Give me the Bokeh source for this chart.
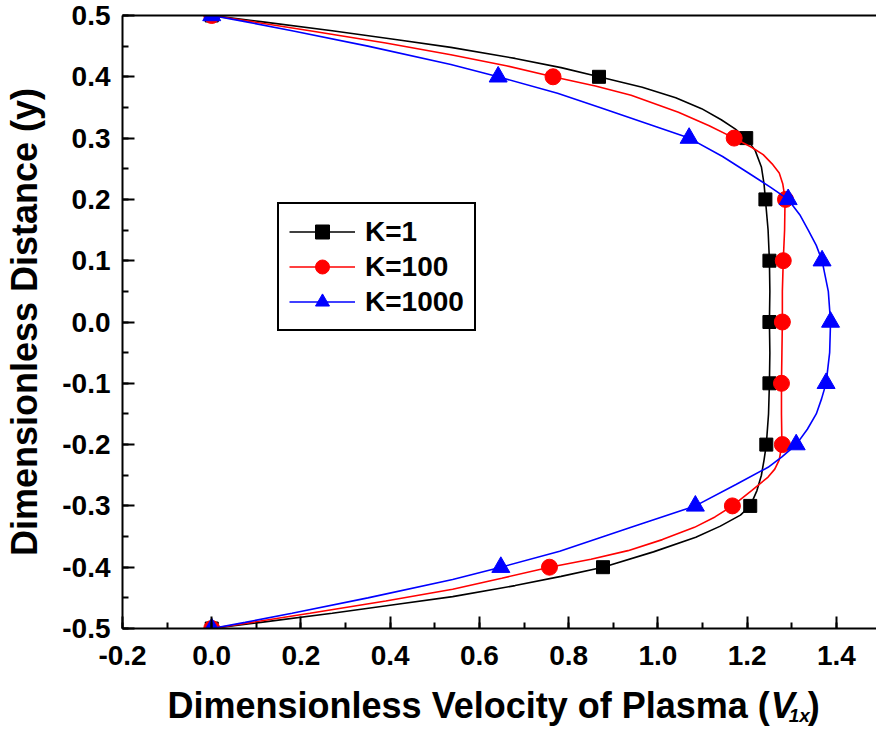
from bokeh.plotting import figure
from bokeh.models import (Range1d, LinearAxis, FixedTicker, Legend, LegendItem, Label,
                          SingleIntervalTicker, PrintfTickFormatter)
from bokeh.layouts import column
from bokeh.embed import file_html
from bokeh.resources import INLINE

# ---- marker data ----
y_pts = [0.5, 0.4, 0.3, 0.2, 0.1, 0.0, -0.1, -0.2, -0.3, -0.4, -0.5]
k1_pts = [0.0, 0.868, 1.198, 1.241, 1.250, 1.250, 1.250, 1.243, 1.207, 0.877, 0.0]
k100_pts = [0.0, 0.765, 1.171, 1.286, 1.281, 1.279, 1.277, 1.279, 1.167, 0.757, 0.0]
k1000_pts = [0.0, 0.642, 1.070, 1.292, 1.368, 1.387, 1.377, 1.310, 1.084, 0.648, 0.0]

# ---- curve data ----
k1_line_y = [0.5, 0.49, 0.475, 0.46, 0.448, 0.43, 0.415, 0.4, 0.383, 0.366, 0.348, 0.33, 0.315,
             0.3, 0.28, 0.253, 0.225, 0.2, 0.15, 0.1, 0.05, 0.0,
             -0.05, -0.1, -0.15, -0.2, -0.225, -0.25, -0.275, -0.3, -0.315, -0.333, -0.351,
             -0.375, -0.4, -0.415, -0.43, -0.448, -0.46, -0.475, -0.49, -0.5]
k1_line_x = [0.0, 0.11, 0.27, 0.42, 0.536, 0.68, 0.783, 0.868, 0.965, 1.040, 1.098, 1.142, 1.173,
             1.198, 1.218, 1.232, 1.238, 1.241, 1.247, 1.250, 1.251, 1.250,
             1.251, 1.250, 1.248, 1.243, 1.238, 1.232, 1.222, 1.207, 1.185, 1.140, 1.085,
             0.990, 0.877, 0.783, 0.680, 0.540, 0.420, 0.270, 0.110, 0.0]

k100_line_y = [0.5, 0.49, 0.475, 0.455, 0.436, 0.418, 0.4, 0.385, 0.37, 0.342, 0.32, 0.3, 0.285,
               0.273, 0.258, 0.243, 0.225, 0.211, 0.2, 0.15, 0.1, 0.05, 0.0,
               -0.05, -0.1, -0.15, -0.2, -0.225, -0.24, -0.253, -0.275, -0.3, -0.318, -0.335,
               -0.355, -0.373, -0.387, -0.4, -0.418, -0.436, -0.455, -0.475, -0.49, -0.5]
k100_line_x = [0.0, 0.09, 0.22, 0.39, 0.536, 0.66, 0.765, 0.86, 0.94, 1.046, 1.115, 1.171, 1.210,
               1.236, 1.256, 1.272, 1.280, 1.283, 1.285, 1.284, 1.281, 1.279, 1.279,
               1.278, 1.277, 1.277, 1.278, 1.272, 1.262, 1.247, 1.210, 1.167, 1.128, 1.082,
               1.010, 0.933, 0.850, 0.757, 0.650, 0.540, 0.390, 0.220, 0.090, 0.0]

k1000_line_y = [0.5, 0.49, 0.475, 0.45, 0.42, 0.4, 0.373, 0.35, 0.325, 0.3, 0.27, 0.243, 0.22,
                0.2, 0.175, 0.15, 0.125, 0.1, 0.05, 0.0,
                -0.05, -0.1, -0.125, -0.15, -0.175, -0.2, -0.22, -0.237, -0.265, -0.3, -0.335,
                -0.374, -0.4, -0.42, -0.45, -0.475, -0.49, -0.5]
k1000_line_x = [0.0, 0.075, 0.18, 0.35, 0.536, 0.642, 0.775, 0.870, 0.970, 1.070, 1.145, 1.203, 1.252,
                1.292, 1.318, 1.337, 1.355, 1.368, 1.382, 1.387,
                1.385, 1.377, 1.367, 1.355, 1.335, 1.310, 1.278, 1.247, 1.175, 1.084, 0.940,
                0.780, 0.648, 0.540, 0.350, 0.180, 0.075, 0.0]

labels = ["K=1", "K=100", "K=1000"]
x_title = "Dimensionless Velocity of Plasma ("
y_title = "Dimensionless Distance (y)"

FONT = "Liberation Sans"

p = figure(width=876, height=680, x_range=Range1d(-0.2, 1.49), y_range=Range1d(-0.5, 0.5),
           output_backend="svg", toolbar_location=None,
           min_border_left=122, min_border_right=0, min_border_top=15, min_border_bottom=52)
p.outline_line_color = None
p.xgrid.visible = False
p.ygrid.visible = False
p.background_fill_color = "white"
p.border_fill_color = "white"

for ax in (p.xaxis[0], p.yaxis[0]):
    ax.axis_line_width = 2
    ax.axis_line_color = "black"
    ax.major_tick_in = 12
    ax.major_tick_out = 0
    ax.minor_tick_in = 6
    ax.minor_tick_out = 0
    ax.major_tick_line_width = 2
    ax.minor_tick_line_width = 2
    ax.major_label_text_font = FONT
    ax.major_label_text_font_style = "bold"
    ax.major_label_text_font_size = "28px"
    ax.major_label_text_color = "black"
    ax.formatter = PrintfTickFormatter(format="%.1f")

p.xaxis[0].ticker = SingleIntervalTicker(interval=0.2, num_minor_ticks=2)
p.yaxis[0].ticker = SingleIntervalTicker(interval=0.1, num_minor_ticks=2)
p.xaxis[0].major_label_standoff = 17
p.yaxis[0].major_label_standoff = 12

p.yaxis[0].axis_label = y_title
p.yaxis[0].axis_label_text_font = FONT
p.yaxis[0].axis_label_text_font_style = "bold"
p.yaxis[0].axis_label_text_font_size = "36px"
p.yaxis[0].axis_label_text_color = "black"
p.yaxis[0].axis_label_standoff = 14

top = LinearAxis(ticker=FixedTicker(ticks=[], minor_ticks=[]), axis_line_width=2,
                 major_tick_in=0, major_tick_out=0, minor_tick_in=0, minor_tick_out=0)
p.add_layout(top, "above")

series = [
    (k1_line_x, k1_line_y, k1_pts, "black", "square", 13),
    (k100_line_x, k100_line_y, k100_pts, "red", "circle", 16),
    (k1000_line_x, k1000_line_y, k1000_pts, "blue", "triangle", 18),
]
items = []
for (lx, ly, pts, col, mk, sz), lab in zip(series, labels):
    lr = p.line(lx, ly, line_color=col, line_width=1.6)
    mr = p.scatter(pts, y_pts, marker=mk, size=sz, fill_color=col, line_color=col)
    items.append(LegendItem(label=lab, renderers=[lr, mr]))

legend = Legend(items=items, location=(155, 297), orientation="vertical",
                label_text_font=FONT, label_text_font_style="bold", label_text_font_size="28px",
                label_text_color="black",
                glyph_width=66, glyph_height=35, label_height=35, spacing=0, padding=10,
                label_standoff=10, margin=0, border_line_color="black", border_line_width=2,
                border_line_alpha=1.0,
                background_fill_color="white", background_fill_alpha=1.0)
p.add_layout(legend)

# ---- x axis title strip (main text + italic V with subscript) ----
t = figure(width=876, height=50, x_range=Range1d(0, 876), y_range=Range1d(0, 50),
           output_backend="svg", toolbar_location=None, x_axis_type=None, y_axis_type=None,
           min_border=0)
t.outline_line_color = None
t.xgrid.visible = False
t.ygrid.visible = False

X0 = 752
BASE = 25
t.add_layout(Label(x=X0, y=BASE, text=x_title, text_align="right", text_baseline="alphabetic",
                   text_font=FONT, text_font_style="bold", text_font_size="36px", text_color="black"))
t.add_layout(Label(x=X0 + 1, y=BASE, text="V", text_align="left", text_baseline="alphabetic",
                   text_font=FONT, text_font_style="bold italic", text_font_size="36px",
                   text_color="black"))
t.add_layout(Label(x=X0 + 22, y=BASE - 10, text="1x", text_align="left", text_baseline="alphabetic",
                   text_font=FONT, text_font_style="bold italic", text_font_size="19px",
                   text_color="black"))
t.add_layout(Label(x=X0 + 44, y=BASE, text=")", text_align="left", text_baseline="alphabetic",
                   text_font=FONT, text_font_style="bold", text_font_size="36px", text_color="black"))

layout = column(p, t, spacing=0)
open("out.html", "w").write(file_html(layout, INLINE))
